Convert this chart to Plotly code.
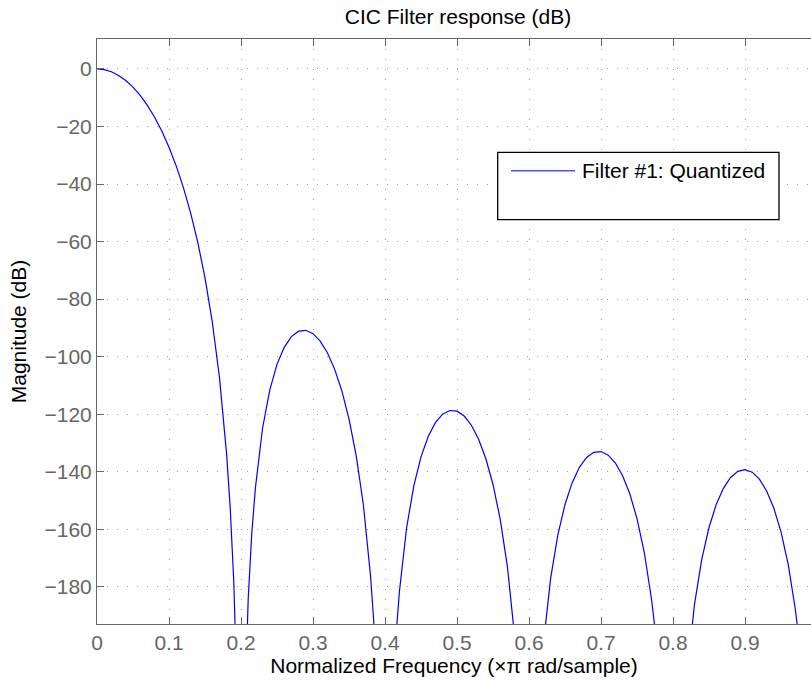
import plotly.graph_objects as go

# ---- data ----
freq = [0.00, 0.01, 0.02, 0.03, 0.04, 0.05, 0.06, 0.07, 0.08, 0.09, 0.10, 0.11, 0.12, 0.13, 0.14,
        0.15, 0.16, 0.17, 0.18, 0.185, 0.19, 0.195,
        0.205, 0.21, 0.215, 0.22, 0.23, 0.24, 0.25, 0.26, 0.27, 0.28, 0.29, 0.30, 0.31, 0.32, 0.33,
        0.34, 0.35, 0.36, 0.37, 0.38, 0.385, 0.39, 0.395,
        0.405, 0.41, 0.415, 0.42, 0.43, 0.44, 0.45, 0.46, 0.47, 0.48, 0.49, 0.50, 0.51, 0.52, 0.53,
        0.54, 0.55, 0.56, 0.57, 0.575, 0.58, 0.585, 0.59,
        0.61, 0.615, 0.62, 0.625, 0.63, 0.64, 0.65, 0.66, 0.67, 0.68, 0.69, 0.70, 0.71, 0.72, 0.73,
        0.74, 0.75, 0.76, 0.77, 0.775, 0.78, 0.79,
        0.81, 0.82, 0.825, 0.83, 0.84, 0.85, 0.86, 0.87, 0.88, 0.89, 0.90, 0.91, 0.92, 0.93, 0.94,
        0.95, 0.96, 0.97, 0.975, 0.98, 0.99]

mag_db = [0.00, -0.25, -0.99, -2.25, -4.02, -6.32, -9.19, -12.66, -16.78, -21.60, -27.21, -33.70,
          -41.23, -50.00, -60.31, -72.62, -87.70, -107.00, -133.78, -152.45, -178.37, -221.86,
          -224.80, -184.25, -161.29, -145.59, -124.79, -111.55, -102.67, -96.74, -93.03, -91.14,
          -90.83, -91.99, -94.58, -98.65, -104.32, -111.83, -121.61, -134.37, -151.55, -176.37,
          -194.12, -219.15, -261.78,
          -263.10, -221.78, -198.07, -181.64, -159.46, -144.93, -134.82, -127.74, -122.94, -120.00,
          -118.71, -118.93, -120.62, -123.83, -128.67, -135.40, -144.42, -156.46, -172.94, -183.71,
          -197.08, -214.50, -239.20,
          -240.59, -216.58, -199.86, -187.18, -177.11, -162.02, -151.38, -143.77, -138.45, -135.02,
          -133.24, -132.98, -134.21, -136.97, -141.37, -147.66, -156.26, -167.88, -183.96, -194.52,
          -207.70, -249.42,
          -250.04, -208.94, -196.07, -185.82, -170.37, -159.37, -151.40, -145.74, -141.96, -139.84,
          -139.24, -140.14, -142.57, -146.65, -152.61, -160.88, -172.19, -187.95, -198.35, -211.37,
          -252.79]

x_ticks = [0, 0.1, 0.2, 0.3, 0.4, 0.5, 0.6, 0.7, 0.8, 0.9]
x_tick_labels = ["0", "0.1", "0.2", "0.3", "0.4", "0.5", "0.6", "0.7", "0.8", "0.9"]
y_ticks = [0, -20, -40, -60, -80, -100, -120, -140, -160, -180]
y_tick_labels = ["0", "\u221220", "\u221240", "\u221260", "\u221280", "\u2212100",
                 "\u2212120", "\u2212140", "\u2212160", "\u2212180"]

title_text = "CIC Filter response (dB)"
x_title = "Normalized Frequency (\u00d7\u03c0 rad/sample)"
y_title = "Magnitude (dB)"
series_name = "Filter #1: Quantized"

FONT = "Liberation Sans, Arial, Helvetica, sans-serif"
GRAY = "#666666"

W, H = 811, 684
L, T, B = 97, 39, 60          # plot area: 97..811 x 39..624
PW, PH = W - L, H - T - B     # 714 x 585

fig = go.Figure()
fig.add_trace(go.Scatter(x=freq, y=mag_db, mode="lines", name=series_name,
                         line=dict(color="#0000ff", width=1.2), showlegend=False))

fig.update_layout(
    width=W, height=H,
    margin=dict(l=L, r=0, t=T, b=B),
    plot_bgcolor="white", paper_bgcolor="white",
    font=dict(family=FONT, size=21, color="black"),
    showlegend=False,
    title=dict(text=title_text, x=458 / W, xanchor="center",
               y=1 - 17 / H, yanchor="middle", font=dict(size=21, color="black")),
)

fig.update_xaxes(
    range=[0, PW / 720],
    tickvals=x_ticks, ticktext=x_tick_labels,
    ticks="inside", ticklen=7, tickwidth=1, tickcolor=GRAY,
    tickfont=dict(color=GRAY, size=21),
    showline=True, linecolor=GRAY, linewidth=1, mirror="ticks",
    showgrid=True, gridcolor="#a0a0a0", gridwidth=1, griddash="1px,9px",
    zeroline=False,
    title=dict(text=x_title, standoff=3, font=dict(size=21, color="black")),
)
fig.update_yaxes(
    range=[-192.9, 10.4],
    tickvals=y_ticks, ticktext=y_tick_labels,
    ticks="inside", ticklen=7, tickwidth=1, tickcolor=GRAY,
    tickfont=dict(color=GRAY, size=21),
    showline=True, linecolor=GRAY, linewidth=1, mirror=False,
    showgrid=True, gridcolor="#a0a0a0", gridwidth=1, griddash="1px,9px",
    zeroline=False,
    title=dict(text=y_title, standoff=12, font=dict(size=21, color="black")),
)

# legend drawn as a MATLAB-style box (pixel positions -> paper)
def px(xw):
    return (xw - L) / PW

def py(yw):
    return (T + PH - yw) / PH

fig.add_shape(type="rect", xref="paper", yref="paper",
              x0=px(497.7), x1=px(779), y0=py(219.7), y1=py(152.3),
              line=dict(color="black", width=1.3), fillcolor="white", layer="above")
fig.add_shape(type="line", xref="paper", yref="paper",
              x0=px(511), x1=px(575), y0=py(170.7), y1=py(170.7),
              line=dict(color="#4d4dff", width=1.5), layer="above")
fig.add_annotation(text=series_name, xref="paper", yref="paper",
                   x=px(580), y=py(171), xanchor="left", yanchor="middle",
                   showarrow=False, font=dict(size=21, color="black"))

# remove the default 8px page margin so the figure fills the window exactly
fig.write_html("out.html",
               config={"displayModeBar": False},
               post_script="document.body.style.margin='0px';document.body.style.overflow='hidden';")
